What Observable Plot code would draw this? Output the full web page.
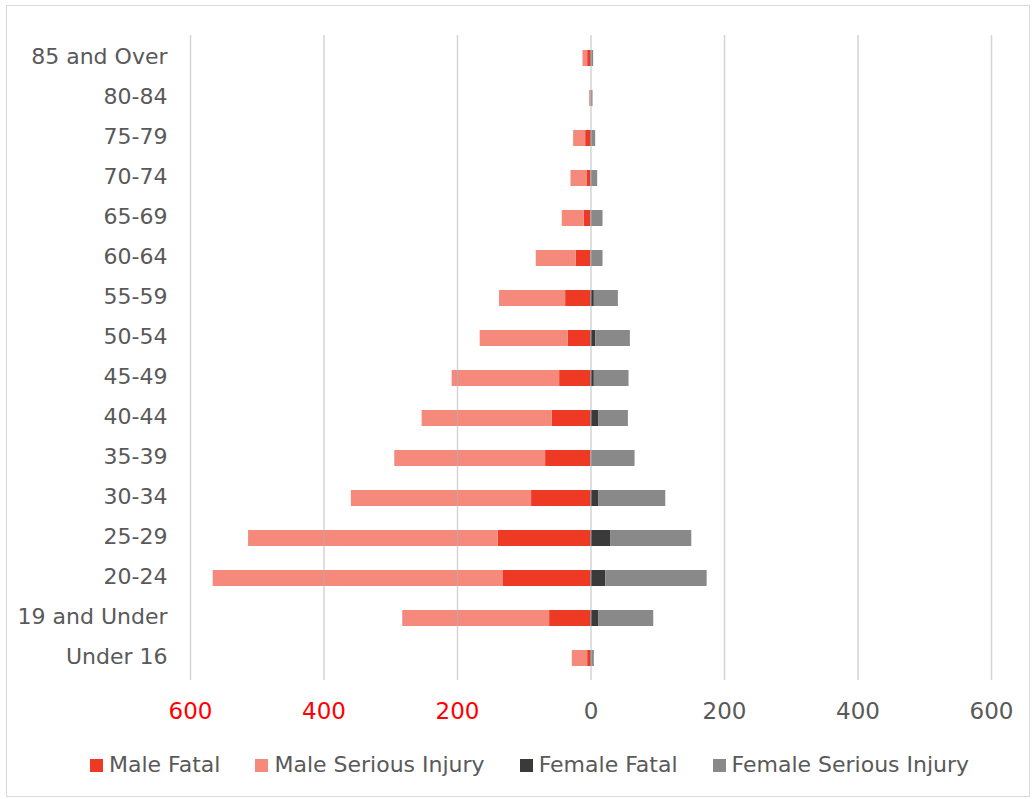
<!DOCTYPE html>
<html><head><meta charset="utf-8">
<script src="https://cdn.jsdelivr.net/npm/d3@7"></script>
<script src="https://cdn.jsdelivr.net/npm/@observablehq/plot@0.6"></script>
<style>
body{margin:0;background:#fff;font-family:"DejaVu Sans",sans-serif;width:1034px;height:799px;overflow:hidden;position:relative;}
#frame{position:absolute;left:6px;top:5px;width:1024px;height:792px;border:1px solid #d9d9d9;box-sizing:border-box;}
#chart{position:absolute;left:0;top:0;}
#legend{position:absolute;top:751px;left:90px;display:flex;gap:35px;font-size:22px;line-height:28px;color:#595959;white-space:nowrap;}
#legend .item{display:flex;align-items:center;gap:6px;}
#legend .sw{width:13px;height:13px;display:inline-block;}
</style></head>
<body>
<div id="frame"></div>
<div id="chart"></div>
<div id="legend"></div>
<script>
const ages = ["Under 16","19 and Under","20-24","25-29","30-34","35-39","40-44","45-49","50-54","55-59","60-64","65-69","70-74","75-79","80-84","85 and Over"];
const maleFatal     = [5, 62, 132, 139, 89, 68, 58, 47, 34, 38, 22, 10, 6, 8, 0, 5];
const maleSerious   = [23, 220, 434, 374, 270, 226, 195, 161, 132, 99, 60, 33, 24, 18, 2, 7];
const femaleFatal   = [1, 12, 22, 30, 12, 0, 12, 5, 7, 5, 0, 0, 0, 1, 0, 1];
const femaleSerious = [4, 82, 152, 121, 100, 66, 44, 52, 52, 36, 18, 18, 10, 6, 3, 3];
const seriesNames = ["Male Fatal","Male Serious Injury","Female Fatal","Female Serious Injury"];
const seriesColors = ["#EE3A24","#F4897C","#3A3A3A","#898989"];
const tickValues = [-600,-400,-200,0,200,400,600];

const rows = [];
ages.forEach((a,i)=>{
  rows.push({age:a, series:seriesNames[0], value:-maleFatal[i]});
  rows.push({age:a, series:seriesNames[1], value:-maleSerious[i]});
  rows.push({age:a, series:seriesNames[2], value:femaleFatal[i]});
  rows.push({age:a, series:seriesNames[3], value:femaleSerious[i]});
});

const chart = Plot.plot({
  width:1034, height:730,
  marginLeft:190, marginRight:43, marginTop:35, marginBottom:50,
  style:{fontFamily:"'DejaVu Sans', sans-serif", background:"transparent"},
  x:{domain:[-600,600]},
  y:{domain:ages.slice().reverse(), paddingInner:0.6, paddingOuter:0.3},
  color:{domain:seriesNames, range:seriesColors},
  marks:[
    Plot.barX(rows, Plot.stackX({x:"value", y:"age", fill:"series", order:null})),
    Plot.ruleX(tickValues, {stroke:"#b3b3b3", strokeOpacity:0.55, strokeWidth:1.5}),
    Plot.axisY({tickSize:0, tickPadding:23, fontSize:22, fill:"#595959", label:null, dy:-2}),
    Plot.axisX({ticks:tickValues, tickSize:0, tickPadding:22, fontSize:23, label:null,
      tickFormat:d=>String(Math.abs(d)), fill:d=>d<0?"#ff0000":"#595959"})
  ]
});
document.getElementById("chart").appendChild(chart);

const lg = document.getElementById("legend");
seriesNames.forEach((n,i)=>{
  const it=document.createElement("div"); it.className="item";
  const sw=document.createElement("span"); sw.className="sw"; sw.style.background=seriesColors[i];
  const t=document.createElement("span"); t.textContent=n;
  it.appendChild(sw); it.appendChild(t); lg.appendChild(it);
});
</script>
</body></html>
